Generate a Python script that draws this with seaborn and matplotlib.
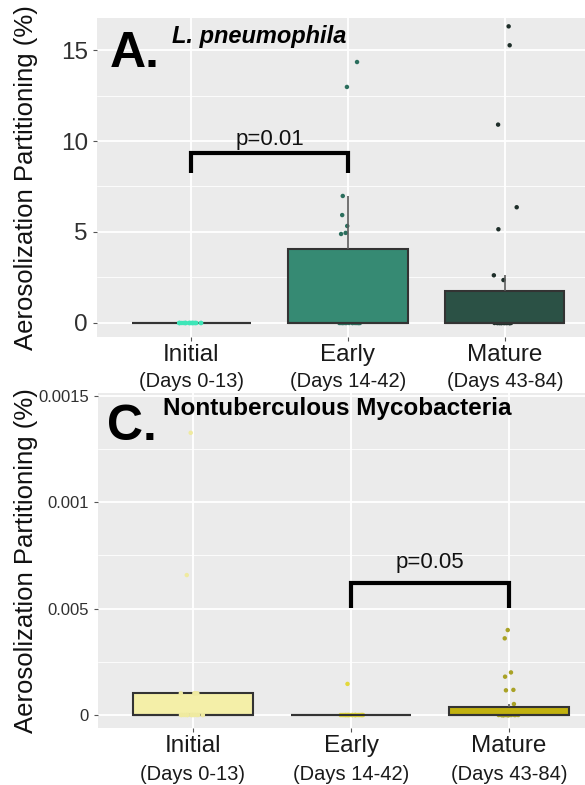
import matplotlib
matplotlib.use("Agg")

import matplotlib.pyplot as plt
import matplotlib.transforms as mtransforms
from matplotlib.ticker import MultipleLocator, FixedLocator
import numpy as np
import pandas as pd
import seaborn as sns

stages = ["Initial", "Early", "Mature"]
day_ranges = ["(Days 0-13)", "(Days 14-42)", "(Days 43-84)"]

# panel A: L. pneumophila (values in %); small values under the box fill keep the quartiles right
lp_initial = [0, 0, 0, 0, 0, 0, 0, 0, 0, 0, 0, 0, 0, 0, 0, 0, 0, 0, 0, 0]
lp_early = [0, 0, 0, 0, 0, 0, 0, 0, 0, 0, 0, 0, 0, 0,
            0.3, 0.6, 0.9, 1.2, 1.61,
            4.89, 4.95, 5.33, 5.93, 6.98, 12.97, 14.34]
lp_mature = [0, 0, 0, 0, 0, 0, 0, 0, 0, 0, 0, 0, 0, 0, 0, 0, 0, 0,
             0.04,
             2.36, 2.62, 5.15, 6.36, 10.9, 15.26, 16.3]

# panel C: nontuberculous mycobacteria (values in %)
ntm_initial = [0, 0, 0, 0, 0, 0, 0, 0, 0, 0, 0, 0, 0, 0,
               0.000102, 0.000102, 0.000102, 0.000102,
               0.000657, 0.001325]
ntm_early = [0, 0, 0, 0, 0, 0, 0, 0, 0, 0, 0, 0, 0, 0, 0, 0, 0, 0,
             0.000146]
ntm_mature = [0, 0, 0, 0, 0, 0, 0, 0, 0, 0, 0, 0, 0, 0, 0, 0, 0, 0, 0,
              0.00002,
              0.0000516, 0.000116, 0.000118, 0.00018, 0.0002, 0.00036, 0.000399]

lp_box_colors = ["#40E0B5", "#368A73", "#2B5145"]
lp_point_colors = ["#3EE6B8", "#2B6E5D", "#1E2E29"]
ntm_box_colors = ["#F4EFA8", "#E4DB3C", "#C1B10F"]
ntm_point_colors = ["#EFEAA0", "#E3D83A", "#A9A226"]

lp_yticks = [0, 5, 10, 15]
lp_yticklabels = ["0", "5", "10", "15"]
ntm_yticks = [0, 0.0005, 0.001, 0.0015]
ntm_yticklabels = ["0", "0.005", "0.001", "0.0015"]

sns.set_style("darkgrid", {"axes.facecolor": "#EBEBEB", "grid.color": "white"})
plt.rcParams["font.family"] = ["Liberation Sans", "DejaVu Sans"]


def make_frame(groups):
    return pd.DataFrame({
        "stage": np.repeat(stages, [len(g) for g in groups]),
        "value": np.concatenate([np.asarray(g, dtype=float) for g in groups]),
    })


def draw_panel(ax, groups, box_colors, point_colors, ylim, yticks, yticklabels,
               ytick_size, minor_step):
    df = make_frame(groups)
    np.random.seed(3)
    sns.stripplot(data=df, x="stage", y="value", hue="stage", order=stages,
                  hue_order=stages, palette=dict(zip(stages, point_colors)),
                  jitter=0.08, size=3.2, linewidth=0, legend=False, ax=ax)
    sns.boxplot(data=df, x="stage", y="value", hue="stage", order=stages,
                hue_order=stages, palette=dict(zip(stages, box_colors)),
                width=0.76, linewidth=1.5, linecolor="#333333",
                showfliers=False, showcaps=False, saturation=1, legend=False,
                whiskerprops={"color": "#5A5A5A", "linewidth": 1.2}, ax=ax)
    for c in ax.collections:
        c.set_zorder(1.5)
    # the initial-stage points sit on top of the flat box outline
    ax.collections[0].set_zorder(3)
    for p in ax.patches:
        p.set_zorder(2)
    for ln in ax.lines:
        ln.set_zorder(2.5)

    ax.set_xlim(-0.6, 2.6)
    ax.set_ylim(*ylim)
    ax.yaxis.set_major_locator(FixedLocator(yticks))
    ax.set_yticklabels(yticklabels, fontsize=ytick_size, color="#303030")
    ax.yaxis.set_minor_locator(MultipleLocator(minor_step))
    ax.grid(which="major", color="white", linewidth=1.3)
    ax.grid(which="minor", axis="y", color="white", linewidth=0.6)
    ax.set_axisbelow(True)
    for s in ax.spines.values():
        s.set_visible(False)
    ax.tick_params(axis="both", which="major", length=3, color="#555555",
                   left=True, bottom=True)
    ax.tick_params(axis="y", which="minor", length=0)
    ax.set_xticks(range(3))
    ax.set_xticklabels(stages, fontsize=17.5, color="#1A1A1A")
    ax.tick_params(axis="x", pad=2)
    ax.set_xlabel("")
    ax.set_ylabel("Aerosolization Partitioning (%)", fontsize=18.5, color="#111111")

    trans = mtransforms.blended_transform_factory(ax.transData, ax.transAxes)
    for i, d in enumerate(day_ranges):
        ax.text(i, -0.14, d, transform=trans, ha="center", va="center",
                fontsize=14.5, color="#1A1A1A")


def bracket(ax, x0, x1, y_low, y_high, label, text_y):
    ax.plot([x0, x0, x1, x1], [y_low, y_high, y_high, y_low], color="black",
            linewidth=3, solid_joinstyle="miter", solid_capstyle="butt", zorder=4)
    ax.text((x0 + x1) / 2, text_y, label, ha="center", va="bottom",
            fontsize=16, color="#111111")


fig = plt.figure(figsize=(5.85, 7.85), dpi=100)
ax_a = fig.add_axes([0.1658, 0.5707, 0.8581, 0.4064])
ax_c = fig.add_axes([0.1675, 0.0726, 0.8650, 0.4268])

draw_panel(ax_a, [lp_initial, lp_early, lp_mature], lp_box_colors, lp_point_colors,
           (-0.77, 16.76), lp_yticks, lp_yticklabels, 17.5, 2.5)
draw_panel(ax_c, [ntm_initial, ntm_early, ntm_mature], ntm_box_colors, ntm_point_colors,
           (-0.000061, 0.001512), ntm_yticks, ntm_yticklabels, 12, 0.00025)

ax_a.yaxis.set_label_coords(-0.118, 0.5)
ax_c.yaxis.set_label_coords(-0.118, 0.5)

bracket(ax_a, 0, 1, 8.24, 9.34, "p=0.01", 9.5)
bracket(ax_c, 1, 2, 0.000502, 0.000621, "p=0.05", 0.000668)

ax_a.text(0.026, 0.846, "A.", transform=ax_a.transAxes, fontsize=36,
          fontweight="bold", va="baseline", ha="left", color="black")
ax_a.text(0.149, 0.922, "L. pneumophila", transform=ax_a.transAxes, fontsize=17,
          fontweight="bold", fontstyle="italic", va="baseline", ha="left", color="black")
ax_c.text(0.018, 0.860, "C.", transform=ax_c.transAxes, fontsize=36,
          fontweight="bold", va="baseline", ha="left", color="black")
ax_c.text(0.128, 0.934, "Nontuberculous Mycobacteria", transform=ax_c.transAxes,
          fontsize=17.5, fontweight="bold", va="baseline", ha="left", color="black")

fig.savefig("out.png", dpi=100)
